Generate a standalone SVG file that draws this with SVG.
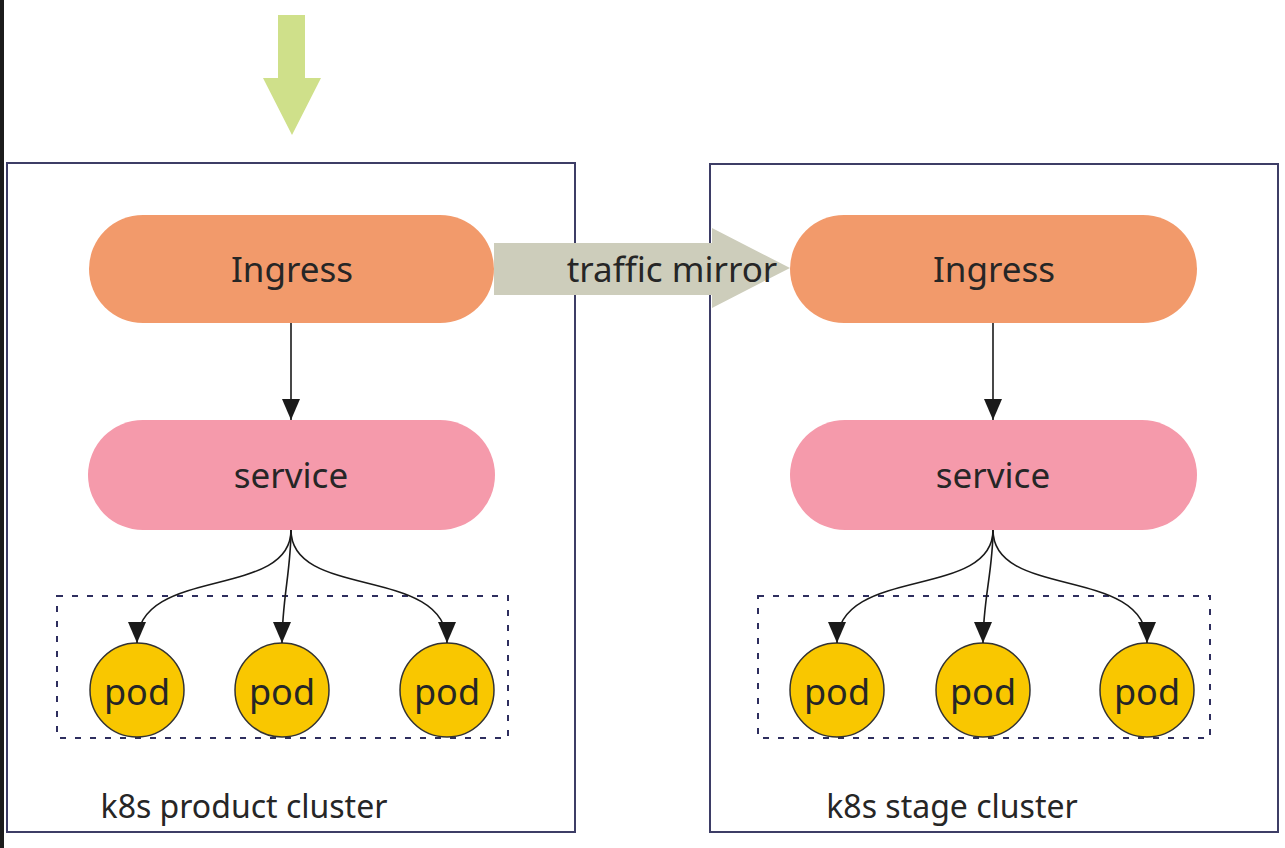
<svg xmlns="http://www.w3.org/2000/svg" width="1285" height="848" viewBox="0 0 1285 848">
<style>
.t{font-family:"Noto Sans","Open Sans","DejaVu Sans",sans-serif;fill:#262626;text-anchor:middle}
.cluster{fill:#fff;stroke:#3d3d66;stroke-width:2}
.ingress{fill:#f29a6b}
.service{fill:#f59aab}
.pod{fill:#f9c700;stroke:#333;stroke-width:1.5}
.group{fill:none;stroke:#2e2e5e;stroke-width:2;stroke-dasharray:6 9}
.edge{fill:none;stroke:#1a1a1a;stroke-width:1.6}
</style>
<defs>
<marker id="ah" markerUnits="userSpaceOnUse" markerWidth="22" markerHeight="22" viewBox="0 0 22 22" refX="21" refY="11" orient="auto">
<path d="M0,2 L21,11 L0,20 Z" fill="#1a1a1a"/>
</marker>
</defs>
<rect x="0" y="0" width="1285" height="848" fill="#fff"/>
<rect x="0" y="0" width="4" height="848" fill="#1c1c1c"/>

<g id="incoming">
<polygon points="278,15 305,15 305,78 321,78 292,135 263,78 278,78" fill="#cfe08a"/>
</g>

<g id="product-cluster">
<rect class="cluster" x="7" y="163" width="568" height="669"/>
<text class="t" x="244" y="818" font-size="32">k8s product cluster</text>
</g>
<g id="stage-cluster">
<rect class="cluster" x="710" y="164" width="568" height="668"/>
<text class="t" x="952" y="818" font-size="32">k8s stage cluster</text>
</g>

<g id="traffic-mirror">
<polygon points="494,243 712,243 712,228 790,268 712,308 712,295 494,295" fill="#cdcdbb"/>
<text class="t" x="672" y="282" font-size="35">traffic mirror</text>
</g>

<g id="ingress-product">
<rect class="ingress" x="89" y="215" width="405" height="108" rx="54"/>
<text class="t" x="292" y="282" font-size="35">Ingress</text>
</g>
<g id="service-product">
<rect class="service" x="88" y="420" width="407" height="110" rx="55"/>
<text class="t" x="291" y="488" font-size="35">service</text>
</g>
<g id="pods-product">
<rect class="group" x="57" y="596" width="451" height="142"/>
</g>
<g id="pod-p1"><circle class="pod" cx="137" cy="690" r="47"/><text class="t" x="137" y="705" font-size="36">pod</text></g>
<g id="pod-p2"><circle class="pod" cx="282" cy="690" r="47"/><text class="t" x="282" y="705" font-size="36">pod</text></g>
<g id="pod-p3"><circle class="pod" cx="447" cy="690" r="47"/><text class="t" x="447" y="705" font-size="36">pod</text></g>

<g id="ingress-stage">
<rect class="ingress" x="790" y="215" width="407" height="108" rx="54"/>
<text class="t" x="994" y="282" font-size="35">Ingress</text>
</g>
<g id="service-stage">
<rect class="service" x="790" y="420" width="407" height="110" rx="55"/>
<text class="t" x="993" y="488" font-size="35">service</text>
</g>
<g id="pods-stage">
<rect class="group" x="758" y="596" width="452" height="142"/>
</g>
<g id="pod-s1"><circle class="pod" cx="837" cy="690" r="47"/><text class="t" x="837" y="705" font-size="36">pod</text></g>
<g id="pod-s2"><circle class="pod" cx="983" cy="690" r="47"/><text class="t" x="983" y="705" font-size="36">pod</text></g>
<g id="pod-s3"><circle class="pod" cx="1147" cy="690" r="47"/><text class="t" x="1147" y="705" font-size="36">pod</text></g>

<g id="connectors">
<path class="edge" d="M291,323 L291,420" marker-end="url(#ah)"/>
<path class="edge" d="M291,530 C291,600 137,565 137,643" marker-end="url(#ah)"/>
<path class="edge" d="M291,530 C291,570 282,600 282,643" marker-end="url(#ah)"/>
<path class="edge" d="M291,530 C291,600 447,565 447,643" marker-end="url(#ah)"/>
<path class="edge" d="M993,323 L993,420" marker-end="url(#ah)"/>
<path class="edge" d="M993,530 C993,600 837,565 837,643" marker-end="url(#ah)"/>
<path class="edge" d="M993,530 C993,570 983,600 983,643" marker-end="url(#ah)"/>
<path class="edge" d="M993,530 C993,600 1147,565 1147,643" marker-end="url(#ah)"/>
</g>
</svg>
